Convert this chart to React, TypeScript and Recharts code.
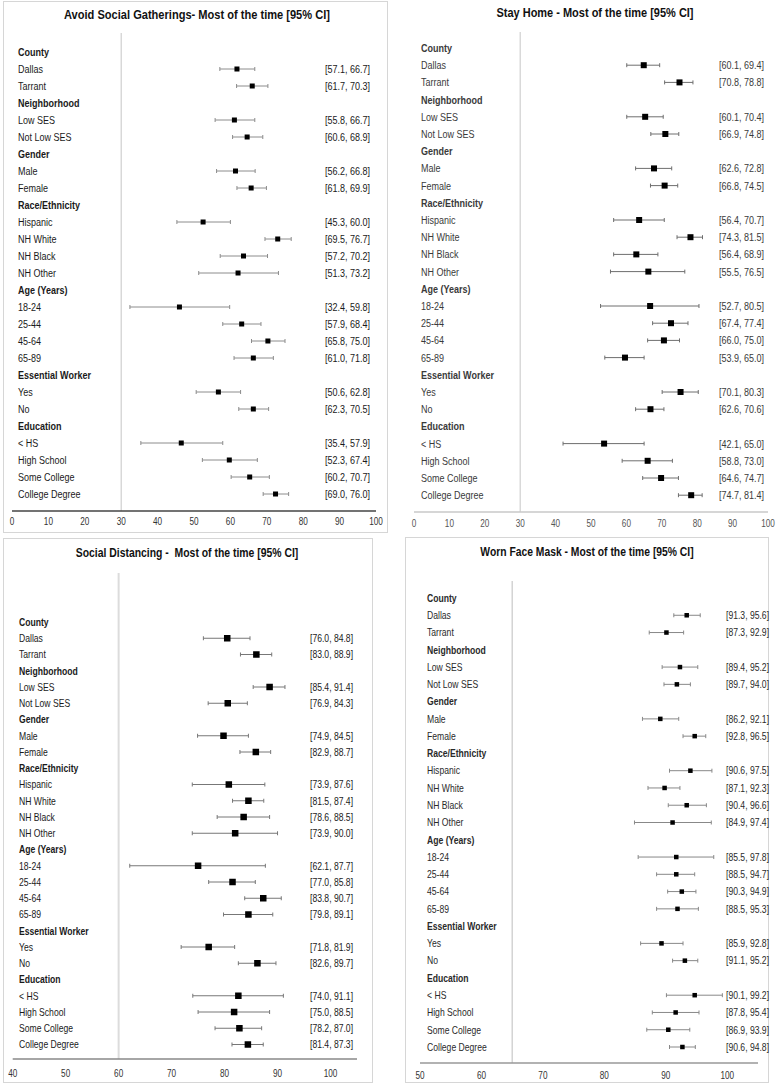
import React from 'react';
import { ComposedChart, Scatter, ErrorBar, XAxis, YAxis, ReferenceLine } from 'recharts';

const FONT = "'Liberation Sans', Arial, Helvetica, sans-serif";
const SX = 0.82;

const rowLabels = [
  'County', 'Dallas', 'Tarrant',
  'Neighborhood', 'Low SES', 'Not Low SES',
  'Gender', 'Male', 'Female',
  'Race/Ethnicity', 'Hispanic', 'NH White', 'NH Black', 'NH Other',
  'Age (Years)', '18-24', '25-44', '45-64', '65-89',
  'Essential Worker', 'Yes', 'No',
  'Education', '< HS', 'High School', 'Some College', 'College Degree',
];
const headerLabels = ['County', 'Neighborhood', 'Gender', 'Race/Ethnicity', 'Age (Years)', 'Essential Worker', 'Education'];

// Avoid Social Gatherings
const avoidEst = [61.8, 66.0, 61.1, 64.6, 61.4, 65.7, 52.5, 73.0, 63.6, 62.1, 46.0, 63.1, 70.3, 66.3, 56.7, 66.3, 46.5, 59.7, 65.3, 72.4];
const avoidLow = [57.1, 61.7, 55.8, 60.6, 56.2, 61.8, 45.3, 69.5, 57.2, 51.3, 32.4, 57.9, 65.8, 61.0, 50.6, 62.3, 35.4, 52.3, 60.2, 69.0];
const avoidHigh = [66.7, 70.3, 66.7, 68.9, 66.8, 69.9, 60.0, 76.7, 70.2, 73.2, 59.8, 68.4, 75.0, 71.8, 62.8, 70.5, 57.9, 67.4, 70.7, 76.0];

// Stay Home
const stayEst = [64.9, 75.0, 65.3, 71.0, 67.8, 70.8, 63.6, 78.1, 62.8, 66.2, 66.7, 72.6, 70.6, 59.6, 75.3, 66.8, 53.7, 66.0, 69.8, 78.3];
const stayLow = [60.1, 70.8, 60.1, 66.9, 62.6, 66.8, 56.4, 74.3, 56.4, 55.5, 52.7, 67.4, 66.0, 53.9, 70.1, 62.6, 42.1, 58.8, 64.6, 74.7];
const stayHigh = [69.4, 78.8, 70.4, 74.8, 72.8, 74.5, 70.7, 81.5, 68.9, 76.5, 80.5, 77.4, 75.0, 65.0, 80.3, 70.6, 65.0, 73.0, 74.7, 81.4];

// Social Distancing
const distEst = [80.5, 86.0, 88.5, 80.6, 79.8, 85.9, 80.8, 84.5, 83.6, 82.0, 75.0, 81.5, 87.3, 84.5, 77.0, 86.2, 82.6, 81.8, 82.8, 84.4];
const distLow = [76.0, 83.0, 85.4, 76.9, 74.9, 82.9, 73.9, 81.5, 78.6, 73.9, 62.1, 77.0, 83.8, 79.8, 71.8, 82.6, 74.0, 75.0, 78.2, 81.4];
const distHigh = [84.8, 88.9, 91.4, 84.3, 84.5, 88.7, 87.6, 87.4, 88.5, 90.0, 87.7, 85.8, 90.7, 89.1, 81.9, 89.7, 91.1, 88.5, 87.0, 87.3];

// Worn Face Mask
const maskEst = [93.4, 90.1, 92.3, 91.8, 89.1, 94.7, 94.0, 89.8, 93.4, 91.1, 91.7, 91.7, 92.6, 91.9, 89.3, 93.1, 94.7, 91.6, 90.4, 92.7];
const maskLow = [91.3, 87.3, 89.4, 89.7, 86.2, 92.8, 90.6, 87.1, 90.4, 84.9, 85.5, 88.5, 90.3, 88.5, 85.9, 91.1, 90.1, 87.8, 86.9, 90.6];
const maskHigh = [95.6, 92.9, 95.2, 94.0, 92.1, 96.5, 97.5, 92.3, 96.6, 97.4, 97.8, 94.7, 94.9, 95.3, 92.8, 95.2, 99.2, 95.4, 93.9, 94.8];

const ticks0to100 = [0, 10, 20, 30, 40, 50, 60, 70, 80, 90, 100];
const ticks40to100 = [40, 50, 60, 70, 80, 90, 100];
const ticks50to100 = [50, 60, 70, 80, 90, 100];

type Row = { label: string; header: boolean; est: number | null; err: number[] | null; ci: string };

function buildRows(est: number[], lo: number[], hi: number[]): Row[] {
  let k = 0;
  return rowLabels.map((label) => {
    if (headerLabels.includes(label)) return { label, header: true, est: null, err: null, ci: '' };
    const e = est[k];
    const l = lo[k];
    const h = hi[k];
    k += 1;
    return { label, header: false, est: e, err: [e - l, h - e], ci: `[${l.toFixed(1)}, ${h.toFixed(1)}]` };
  });
}

type PanelCfg = {
  title: string;
  titleX: number;
  titleY: number;
  titleSize: number;
  border: null | { left: number; top: number; width: number; height: number };
  left: number;
  top: number;
  width: number;
  height: number;
  margin: { top: number; right: number; bottom: number; left: number };
  pad: { top: number; bottom: number };
  domain: [number, number];
  ticks: number[];
  refX: number;
  labelX: number;
  ciX: number;
  fontSize: number;
  marker: number;
  errColor: string;
  axisColor: string;
  refColor: string;
  refWidth: number;
  textColor: string;
  tickColor: string;
  tickMargin: number;
  est: number[];
  lo: number[];
  hi: number[];
};

function Panel({ cfg }: { cfg: PanelCfg }) {
  const rows = buildRows(cfg.est, cfg.lo, cfg.hi);
  const byLabel = new Map(rows.map((r) => [r.label, r]));

  const YTick = (props: any) => {
    const { y, payload } = props;
    const row = byLabel.get(payload.value);
    if (!row) return <g />;
    return (
      <g>
        <text
          transform={`translate(${cfg.labelX},${y}) scale(${SX},1)`}
          dy="0.36em"
          textAnchor="start"
          fontFamily={FONT}
          fontSize={cfg.fontSize}
          fontWeight={row.header ? 700 : 400}
          fill={cfg.textColor}
        >
          {row.label}
        </text>
        {row.ci ? (
          <text
            transform={`translate(${cfg.ciX},${y}) scale(${SX},1)`}
            dy="0.36em"
            textAnchor="start"
            fontFamily={FONT}
            fontSize={cfg.fontSize}
            fill={cfg.textColor}
          >
            {row.ci}
          </text>
        ) : null}
      </g>
    );
  };

  const XTick = (props: any) => {
    const { x, y, payload } = props;
    return (
      <text
        transform={`translate(${x},${y}) scale(${SX},1)`}
        dy="0.71em"
        textAnchor="middle"
        fontFamily={FONT}
        fontSize={10}
        fill={cfg.tickColor}
      >
        {payload.value}
      </text>
    );
  };

  const Square = (props: any) => {
    const { cx, cy, payload } = props;
    if (payload == null || payload.est == null || cx == null || cy == null || isNaN(cx) || isNaN(cy)) return <g />;
    const s = cfg.marker;
    return <rect x={cx - s / 2} y={cy - s / 2} width={s} height={s} fill="#000" />;
  };

  return (
    <>
      {cfg.border ? (
        <div
          style={{
            position: 'absolute',
            left: cfg.border.left,
            top: cfg.border.top,
            width: cfg.border.width,
            height: cfg.border.height,
            border: '1px solid #d6d6d6',
            boxSizing: 'border-box',
          }}
        />
      ) : null}
      <div style={{ position: 'absolute', left: cfg.left, top: cfg.top, width: cfg.width, height: cfg.height }}>
        <ComposedChart width={cfg.width} height={cfg.height} data={rows} layout="vertical" margin={cfg.margin}>
          <XAxis
            type="number"
            domain={cfg.domain}
            ticks={cfg.ticks}
            allowDataOverflow
            height={20}
            axisLine={{ stroke: cfg.axisColor, strokeWidth: 1.5 }}
            tickLine={false}
            tickSize={0}
            tickMargin={cfg.tickMargin}
            tick={XTick}
            interval={0}
          />
          <YAxis
            type="category"
            dataKey="label"
            scale="point"
            width={1}
            axisLine={false}
            tickLine={false}
            tickSize={0}
            tickMargin={0}
            interval={0}
            tick={YTick}
            padding={{ top: cfg.pad.top, bottom: cfg.pad.bottom }}
          />
          <ReferenceLine x={cfg.refX} stroke={cfg.refColor} strokeWidth={cfg.refWidth} ifOverflow="extendDomain" />
          <Scatter dataKey="est" isAnimationActive={false} shape={Square}>
            <ErrorBar dataKey="err" direction="x" width={2} stroke={cfg.errColor} strokeWidth={1} isAnimationActive={false} />
          </Scatter>
        </ComposedChart>
      </div>
      <div
        style={{
          position: 'absolute',
          left: cfg.titleX,
          top: cfg.titleY,
          transform: `translate(-50%, -50%) scaleX(${SX})`,
          fontFamily: FONT,
          fontWeight: 700,
          fontSize: cfg.titleSize,
          lineHeight: 1,
          whiteSpace: 'pre',
          color: '#111',
        }}
      >
        {cfg.title}
      </div>
    </>
  );
}

const panels: PanelCfg[] = [
  {
    title: 'Avoid Social Gatherings- Most of the time [95% CI]',
    titleX: 197, titleY: 15, titleSize: 13.5,
    border: { left: 3, top: 1, width: 385, height: 532 },
    left: 0, top: 0, width: 390, height: 535,
    margin: { top: 33, right: 14, bottom: 4, left: 11 },
    pad: { top: 19, bottom: 17 },
    domain: [0, 100], ticks: ticks0to100, refX: 30,
    labelX: 18, ciX: 325, fontSize: 11, marker: 5,
    errColor: '#8c8c8c', axisColor: '#444', refColor: '#cfcfcf', refWidth: 1.2,
    textColor: '#1a1a1a', tickColor: '#333', tickMargin: 7,
    est: avoidEst, lo: avoidLow, hi: avoidHigh,
  },
  {
    title: 'Stay Home - Most of the time [95% CI]',
    titleX: 595, titleY: 13, titleSize: 13.4,
    border: null,
    left: 390, top: 0, width: 387, height: 535,
    margin: { top: 32, right: 9, bottom: 3, left: 23 },
    pad: { top: 16, bottom: 16.8 },
    domain: [0, 100], ticks: ticks0to100, refX: 30,
    labelX: 31, ciX: 329, fontSize: 11, marker: 6,
    errColor: '#6e6e6e', axisColor: '#c8c8c8', refColor: '#d0d0d0', refWidth: 1.2,
    textColor: '#3a3a3a', tickColor: '#555', tickMargin: 7.5,
    est: stayEst, lo: stayLow, hi: stayHigh,
  },
  {
    title: 'Social Distancing -  Most of the time [95% CI]',
    titleX: 187, titleY: 553, titleSize: 12.7,
    border: { left: 3, top: 538, width: 370, height: 545 },
    left: 0, top: 537, width: 390, height: 548,
    margin: { top: 36, right: 33, bottom: 6, left: 11.7 },
    pad: { top: 49, bottom: 14.5 },
    domain: [40, 105], ticks: ticks40to100, refX: 60,
    labelX: 19, ciX: 310, fontSize: 10.5, marker: 6.5,
    errColor: '#777', axisColor: '#888', refColor: '#dcdcdc', refWidth: 2,
    textColor: '#1a1a1a', tickColor: '#333', tickMargin: 11,
    est: distEst, lo: distLow, hi: distHigh,
  },
  {
    title: 'Worn Face Mask - Most of the time [95% CI]',
    titleX: 587, titleY: 552, titleSize: 12.6,
    border: { left: 405, top: 537, width: 364, height: 546 },
    left: 390, top: 537, width: 387, height: 548,
    margin: { top: 44, right: 19, bottom: 2, left: 29 },
    pad: { top: 17, bottom: 16 },
    domain: [50, 105], ticks: ticks50to100, refX: 65,
    labelX: 37, ciX: 336, fontSize: 10.5, marker: 4.5,
    errColor: '#888', axisColor: '#999', refColor: '#c8c8c8', refWidth: 1.2,
    textColor: '#2a2a2a', tickColor: '#333', tickMargin: 8.5,
    est: maskEst, lo: maskLow, hi: maskHigh,
  },
];

export default function App() {
  return (
    <div style={{ position: 'absolute', left: 0, top: 0, width: 777, height: 1085, background: '#fff', overflow: 'hidden' }}>
      {panels.map((p, i) => (
        <Panel key={i} cfg={p} />
      ))}
    </div>
  );
}
